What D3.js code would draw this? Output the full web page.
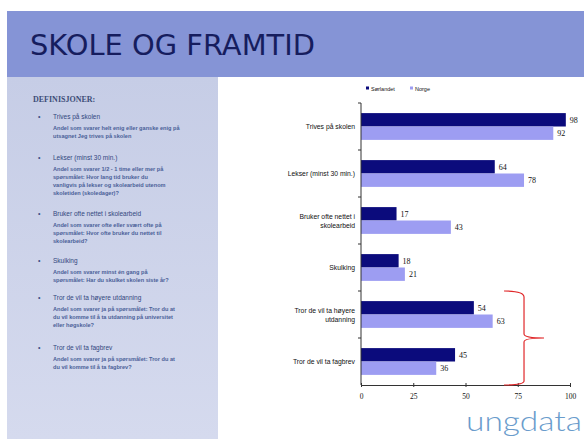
<!DOCTYPE html>
<html>
<head>
<meta charset="utf-8">
<script src="https://cdn.jsdelivr.net/npm/d3@7"></script>
<style>
  body { margin: 0; background: #fff; }
  svg { display: block; }
</style>
</head>
<body>
<svg id="slide" width="584" height="439"></svg>
<script>
// chart data
const categories = ["Trives på skolen", "Lekser (minst 30 min.)", "Bruker ofte nettet i skolearbeid",
                    "Skulking", "Tror de vil ta høyere utdanning", "Tror de vil ta fagbrev"];
const catLines = [["Trives på skolen"], ["Lekser (minst 30 min.)"], ["Bruker ofte nettet i", "skolearbeid"],
                  ["Skulking"], ["Tror de vil ta høyere", "utdanning"], ["Tror de vil ta fagbrev"]];
const seriesNames = ["Sørlandet", "Norge"];
const sorlandet = [98, 64, 17, 18, 54, 45];
const norge = [92, 78, 43, 21, 63, 36];
const xTicks = [0, 25, 50, 75, 100];

// definitions panel text
const defHeads = ["Trives på skolen", "Lekser (minst 30 min.)", "Bruker ofte nettet i skolearbeid",
                  "Skulking", "Tror de vil ta høyere utdanning", "Tror de vil ta fagbrev"];
const defBodies = [
  ["Andel som svarer helt enig eller ganske enig på", "utsagnet Jeg trives på skolen"],
  ["Andel som svarer 1/2 - 1 time eller mer på", "spørsmålet: Hvor lang tid bruker du", "vanligvis på lekser og skolearbeid utenom", "skoletiden (skoledager)?"],
  ["Andel som svarer ofte eller svært ofte på", "spørsmålet: Hvor ofte bruker du nettet til", "skolearbeid?"],
  ["Andel som svarer minst én gang på", "spørsmålet: Har du skulket skolen siste år?"],
  ["Andel som svarer ja på spørsmålet: Tror du at", "du vil komme til å ta utdanning på universitet", "eller høgskole?"],
  ["Andel som svarer ja på spørsmålet: Tror du at", "du vil komme til å ta fagbrev?"]
];
const defY = [119, 160, 216, 263, 300, 350];

const svg = d3.select("#slide");
const colors = { "Sørlandet": "#0b0b7c", "Norge": "#9d9df2" };

// background pieces
const defs = svg.append("defs");
const grad = defs.append("linearGradient").attr("id", "panel").attr("x1", 0).attr("y1", 0).attr("x2", 0).attr("y2", 1);
grad.append("stop").attr("offset", "0%").attr("stop-color", "#c6cde6");
grad.append("stop").attr("offset", "100%").attr("stop-color", "#d5daee");

svg.append("rect").attr("x", 7).attr("y", 11).attr("width", 577).attr("height", 66).attr("fill", "#8594d6");
svg.append("rect").attr("x", 7).attr("y", 77).attr("width", 211).attr("height", 362).attr("fill", "url(#panel)");

svg.append("text")
  .attr("x", 30).attr("y", 55)
  .attr("textLength", 285).attr("lengthAdjust", "spacingAndGlyphs")
  .style("font-family", "DejaVu Sans, sans-serif").style("font-size", "29px")
  .attr("fill", "#161d5e")
  .text("SKOLE OG FRAMTID");

// definitions
svg.append("text")
  .attr("x", 33).attr("y", 102)
  .style("font-family", "Liberation Serif, serif").style("font-size", "8px").style("font-weight", "bold")
  .attr("fill", "#3d4d78")
  .text("DEFINISJONER:");

defHeads.forEach(function(h, i) {
  var g = svg.append("g").attr("transform", "translate(0," + defY[i] + ")");
  g.append("text").attr("x", 38).attr("y", 0)
    .style("font-family", "Liberation Sans, sans-serif").style("font-size", "7px").attr("fill", "#3c4f86").text("•");
  g.append("text").attr("x", 53).attr("y", 0)
    .style("font-family", "Liberation Sans, sans-serif").style("font-size", "6.5px").attr("fill", "#33477e").text(h);
  g.selectAll(".body")
    .data(defBodies[i])
    .enter().append("text")
    .attr("x", 53)
    .attr("y", function(d, j) { return 11 + j * 8; })
    .style("font-family", "Liberation Sans, sans-serif").style("font-size", "5.6px").style("font-weight", "bold")
    .attr("fill", "#4a5f98")
    .text(function(d) { return d; });
});

// chart scales
var x = d3.scaleLinear().domain([0, 100]).range([361, 570]);
var y0 = d3.scaleBand().domain(categories).range([103, 385]);
var y1 = d3.scaleBand().domain(seriesNames).range([y0.bandwidth() * 0.215, y0.bandwidth() * 0.785]);

var rows = categories.map(function(c, i) {
  return { cat: c, lines: catLines[i], values: [
    { name: "Sørlandet", v: sorlandet[i] },
    { name: "Norge", v: norge[i] }
  ]};
});

var groups = svg.selectAll(".cat")
  .data(rows)
  .enter().append("g")
  .attr("class", "cat")
  .attr("transform", function(d) { return "translate(0," + y0(d.cat) + ")"; });

groups.selectAll("rect")
  .data(function(d) { return d.values; })
  .enter().append("rect")
  .attr("x", x(0))
  .attr("y", function(d) { return y1(d.name); })
  .attr("width", function(d) { return x(d.v) - x(0); })
  .attr("height", y1.bandwidth())
  .attr("fill", function(d) { return colors[d.name]; });

groups.selectAll(".val")
  .data(function(d) { return d.values; })
  .enter().append("text")
  .attr("class", "val")
  .attr("x", function(d) { return x(d.v) + 4; })
  .attr("y", function(d) { return y1(d.name) + y1.bandwidth() / 2 + 3; })
  .style("font-family", "Liberation Serif, serif").style("font-size", "8px")
  .attr("fill", "#111")
  .text(function(d) { return d.v; });

// category labels
groups.each(function(d) {
  var n = d.lines.length;
  d3.select(this).selectAll(".lab")
    .data(d.lines)
    .enter().append("text")
    .attr("class", "lab")
    .attr("x", 355)
    .attr("y", function(t, j) { return y0.bandwidth() / 2 + 2.5 + (j - (n - 1) / 2) * 9; })
    .attr("text-anchor", "end")
    .style("font-family", "Liberation Sans, sans-serif").style("font-size", "6.8px")
    .attr("fill", "#111")
    .text(function(t) { return t; });
});

// axes
var xAxis = svg.append("g")
  .attr("transform", "translate(0,385)")
  .call(d3.axisBottom(x).tickValues(xTicks).tickSize(3).tickSizeOuter(0));
xAxis.selectAll(".tick line").attr("y1", -2).attr("y2", 2).attr("stroke", "#333");
xAxis.selectAll("text")
  .attr("y", 9)
  .style("font-family", "Liberation Serif, serif").style("font-size", "7.5px").style("fill", "#111");
xAxis.select(".domain").attr("stroke", "#333");

var yAxis = svg.append("g").attr("transform", "translate(" + x(0) + ",0)");
yAxis.append("line").attr("x1", 0).attr("x2", 0).attr("y1", 103).attr("y2", 385).attr("stroke", "#333");
yAxis.selectAll(".yt")
  .data(categories)
  .enter().append("line")
  .attr("x1", -3).attr("x2", 0)
  .attr("y1", function(d) { return y0(d); })
  .attr("y2", function(d) { return y0(d); })
  .attr("stroke", "#333");

// legend
var legend = svg.selectAll(".leg")
  .data(seriesNames)
  .enter().append("g")
  .attr("transform", function(d, i) { return "translate(" + (366 + i * 44) + ",89)"; });
legend.append("rect").attr("x", 0).attr("y", -2.5).attr("width", 3).attr("height", 3)
  .attr("fill", function(d) { return colors[d]; });
legend.append("text").attr("x", 5).attr("y", 1.5)
  .style("font-family", "Liberation Sans, sans-serif").style("font-size", "5.5px").attr("fill", "#111")
  .text(function(d) { return d; });

// red brace round the two "tror" categories
var bTop = y0(categories[4]), bBot = y0(categories[5]) + y0.bandwidth(), bMid = (bTop + bBot) / 2;
var bx = x(78);
svg.append("path")
  .attr("d", "M" + (bx - 20) + "," + bTop + " Q" + bx + "," + bTop + " " + bx + "," + (bTop + 6) +
             " L" + bx + "," + (bMid - 4) + " Q" + bx + "," + bMid + " " + (bx + 20) + "," + bMid +
             " Q" + bx + "," + bMid + " " + bx + "," + (bMid + 4) +
             " L" + bx + "," + (bBot - 4) + " Q" + bx + "," + bBot + " " + (bx - 20) + "," + bBot)
  .attr("fill", "none").attr("stroke", "#e0282a").attr("stroke-width", 1.2);

// logo
svg.append("text")
  .attr("x", 466).attr("y", 431)
  .attr("textLength", 116).attr("lengthAdjust", "spacingAndGlyphs")
  .style("font-family", "Lato, sans-serif").style("font-weight", 300).style("font-size", "28px")
  .attr("fill", "#6a9ccc")
  .text("ungdata");
</script>
</body>
</html>
